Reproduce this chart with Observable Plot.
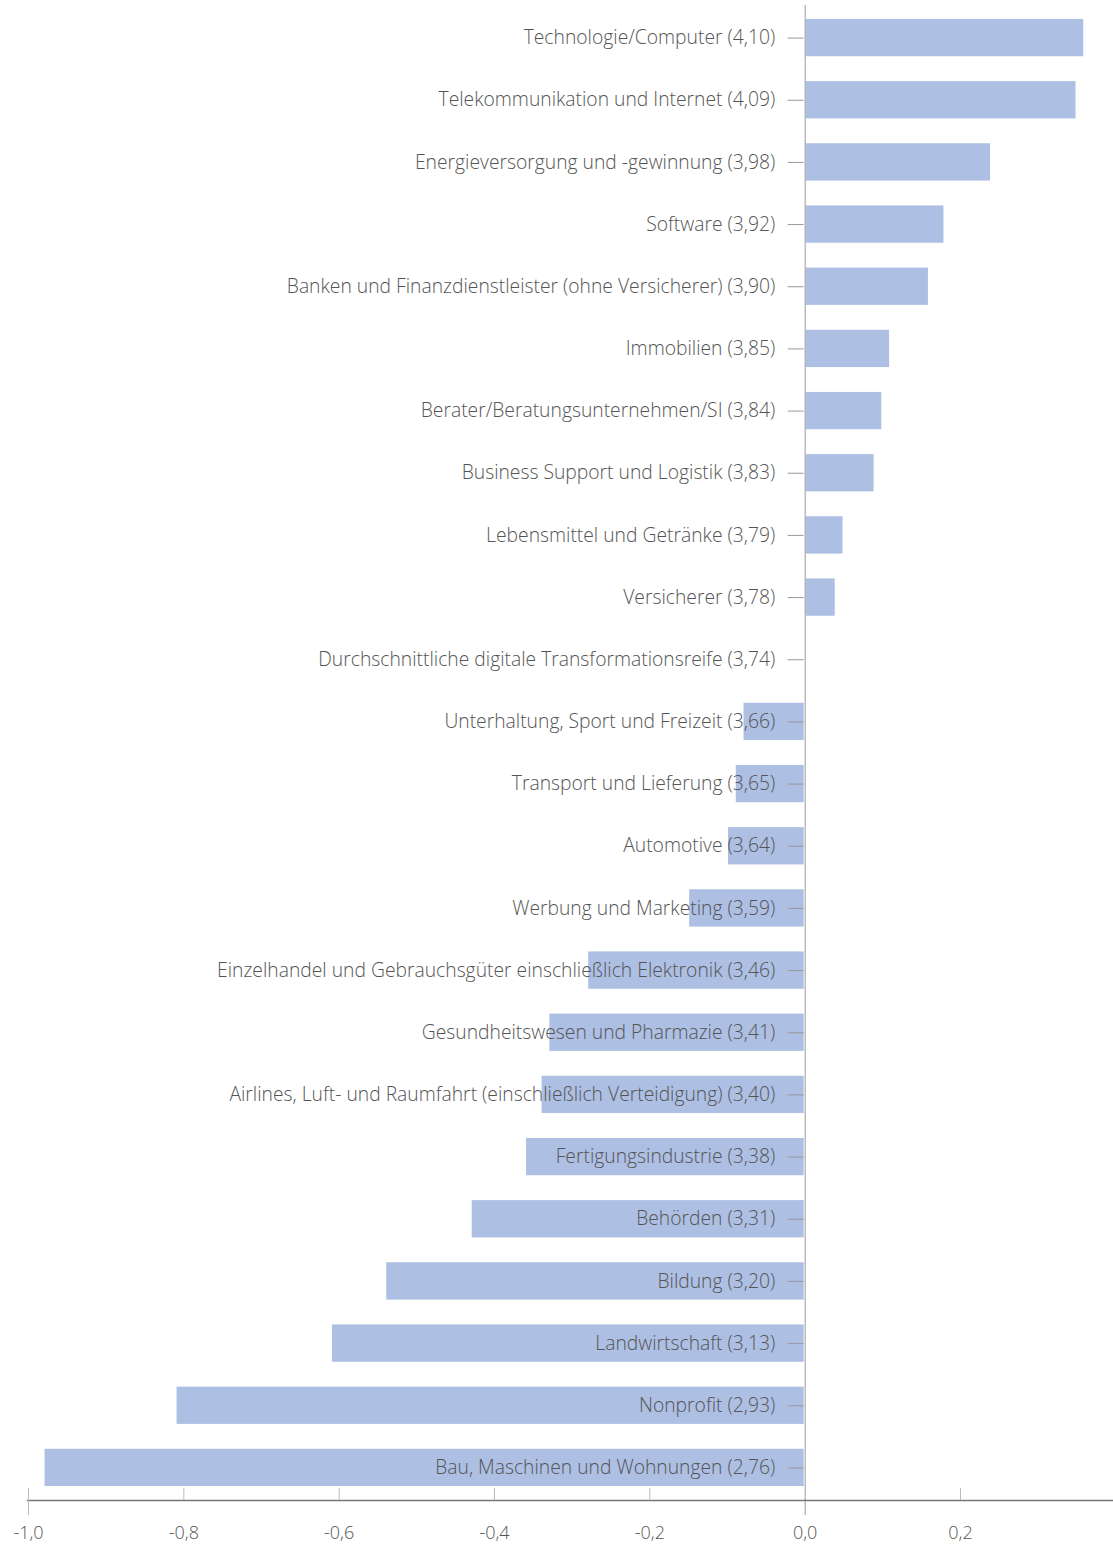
<!DOCTYPE html>
<html>
<head>
<meta charset="utf-8">
<script src="https://cdn.jsdelivr.net/npm/d3@7"></script>
<script src="https://cdn.jsdelivr.net/npm/@observablehq/plot@0.6"></script>
<style>
  html, body { margin: 0; padding: 0; background: #fff; }
  svg { display: block; }
</style>
</head>
<body>
<div id="chart"></div>
<script>
const categories = [
  "Technologie/Computer (4,10)",
  "Telekommunikation und Internet (4,09)",
  "Energieversorgung und -gewinnung (3,98)",
  "Software (3,92)",
  "Banken und Finanzdienstleister (ohne Versicherer) (3,90)",
  "Immobilien (3,85)",
  "Berater/Beratungsunternehmen/SI (3,84)",
  "Business Support und Logistik (3,83)",
  "Lebensmittel und Getränke (3,79)",
  "Versicherer (3,78)",
  "Durchschnittliche digitale Transformationsreife (3,74)",
  "Unterhaltung, Sport und Freizeit (3,66)",
  "Transport und Lieferung (3,65)",
  "Automotive (3,64)",
  "Werbung und Marketing (3,59)",
  "Einzelhandel und Gebrauchsgüter einschließlich Elektronik (3,46)",
  "Gesundheitswesen und Pharmazie (3,41)",
  "Airlines, Luft- und Raumfahrt (einschließlich Verteidigung) (3,40)",
  "Fertigungsindustrie (3,38)",
  "Behörden (3,31)",
  "Bildung (3,20)",
  "Landwirtschaft (3,13)",
  "Nonprofit (2,93)",
  "Bau, Maschinen und Wohnungen (2,76)"
];
const scores = [4.10, 4.09, 3.98, 3.92, 3.90, 3.85, 3.84, 3.83, 3.79, 3.78, 3.74,
  3.66, 3.65, 3.64, 3.59, 3.46, 3.41, 3.40, 3.38, 3.31, 3.20, 3.13, 2.93, 2.76];
const average = 3.74;
const xTicks = [-1.0, -0.8, -0.6, -0.4, -0.2, 0.0, 0.2];

const data = categories.map((c, i) => ({category: c, diff: +(scores[i] - average).toFixed(2)}));

const W = 1113, H = 1546, mt = 5, mb = 46, ml = 28, mr = 0;
const frameH = H - mt - mb;
const fmt = d => d.toFixed(1).replace(".", ",");
const font = "'Open Sans', 'Segoe UI', sans-serif";

const chart = Plot.plot({
  width: W,
  height: H,
  marginTop: mt,
  marginBottom: mb,
  marginLeft: ml,
  marginRight: mr,
  style: {fontFamily: font, fontSize: "19px", color: "#555", background: "#fff"},
  x: {domain: [-1.0, 0.397], axis: null, label: null},
  y: {domain: categories, paddingInner: 0.4, paddingOuter: 0.224, round: false, axis: null},
  marks: [
    Plot.barX(data, {x: "diff", y: "category", fill: "#adbfe3", insetLeft: 1, insetRight: 1}),
    // zero line
    Plot.ruleX([0], {stroke: "#9a9a9a", strokeWidth: 1, insetBottom: -15}),
    // x-axis line
    Plot.frame({anchor: "bottom", stroke: "#777", strokeWidth: 1.5, insetLeft: -1}),
    // upward x ticks
    Plot.ruleX(xTicks.filter(d => d !== 0 && d !== -1), {stroke: "#bbb", insetTop: frameH - 12}),
    Plot.ruleX([-1.0], {stroke: "#bbb", insetTop: frameH - 12, insetBottom: -15}),
    Plot.axisX({anchor: "bottom", ticks: xTicks, tickSize: 0, tickPadding: 26, tickFormat: fmt,
      label: null, fontSize: 18, fill: "#555", fontWeight: 300}),
    // y tick marks at the zero line
    Plot.ruleY(data, {y: "category", x1: 0, x2: 0, insetLeft: -17, insetRight: 1, stroke: "#999"}),
    // category labels
    Plot.text(data, {x: 0, y: "category", text: "category", textAnchor: "end", dx: -30,
      fontSize: 19.3, fill: "#555", fontWeight: 300})
  ]
});
document.getElementById("chart").appendChild(chart);
</script>
</body>
</html>
